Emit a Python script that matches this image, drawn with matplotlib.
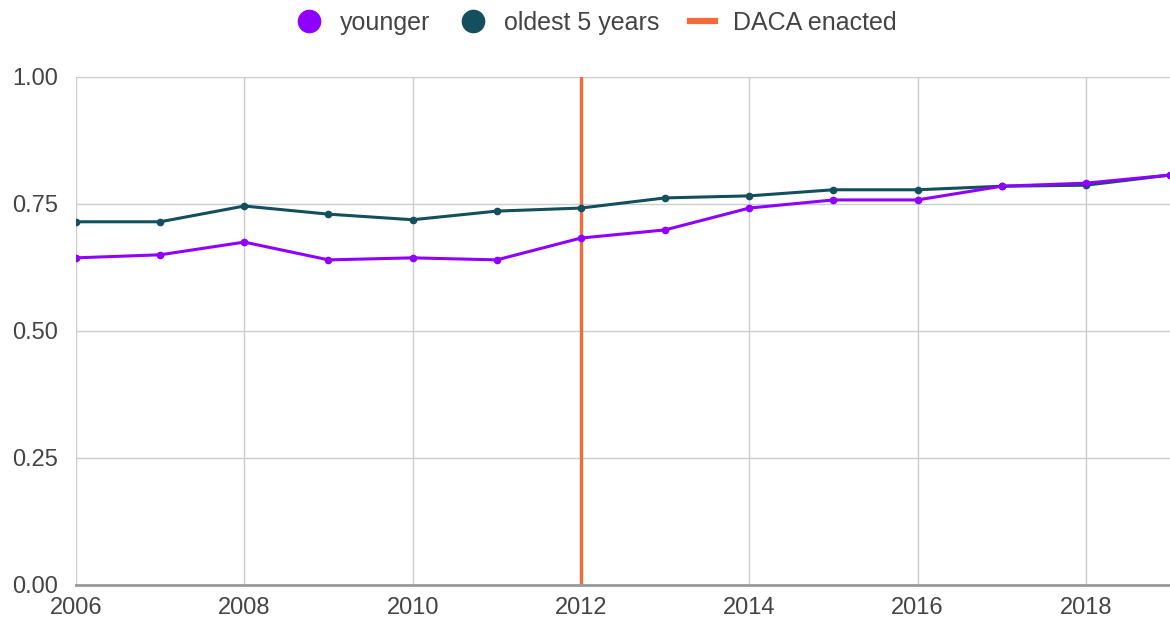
import numpy as np
import matplotlib.pyplot as plt
from matplotlib.lines import Line2D

plt.rcParams['font.family'] = ['Liberation Sans', 'DejaVu Sans']

years = np.arange(2006, 2020)
younger = [0.644, 0.650, 0.675, 0.640, 0.644, 0.640, 0.683, 0.699, 0.742, 0.758, 0.758, 0.785, 0.791, 0.807]
oldest = [0.715, 0.715, 0.746, 0.730, 0.719, 0.736, 0.742, 0.762, 0.766, 0.778, 0.778, 0.785, 0.787, 0.807]
daca_year = 2012
yticks = [0.00, 0.25, 0.50, 0.75, 1.00]
xticks = [2006, 2008, 2010, 2012, 2014, 2016, 2018]

c_young = '#9000ff'
c_old = '#134f5c'
c_daca = '#f26b38'

fig = plt.figure(figsize=(11.7, 6.26), dpi=100)
ax = fig.add_axes([0.065, 0.0655, 0.935, 0.8115])

ax.axvline(daca_year, color=c_daca, lw=2.4, zorder=2)
ax.plot(years, oldest, color=c_old, lw=2.2, marker='o', ms=4.5, zorder=3)
ax.plot(years, younger, color=c_young, lw=2.2, marker='o', ms=4.5, zorder=4)

ax.set_xlim(2006, 2019)
ax.set_ylim(0, 1)
ax.set_xticks(xticks)
ax.set_yticks(yticks)
ax.set_yticklabels([f'{v:.2f}' for v in yticks])
ax.grid(True, color='#cccccc', lw=1)
ax.set_axisbelow(True)
for s in ['top', 'right', 'left']:
    ax.spines[s].set_visible(False)
ax.spines['bottom'].set_color('#999999')
ax.spines['bottom'].set_linewidth(2)
ax.tick_params(length=0, labelsize=17, colors='#444444')
ax.tick_params(axis='x', pad=9)
ax.tick_params(axis='y', pad=13)

handles = [
    Line2D([], [], ls='none', marker='o', ms=16, color=c_young),
    Line2D([], [], ls='none', marker='o', ms=16, color=c_old),
    Line2D([], [], color=c_daca, lw=4.5),
]
fig.legend(handles, ['younger', 'oldest 5 years', 'DACA enacted'],
           loc='center', bbox_to_anchor=(0.51, 0.963), ncol=3, frameon=False,
           fontsize=18, labelcolor='#444444', handlelength=1.0,
           columnspacing=1.2, handletextpad=0.75)

fig.savefig('out.png', dpi=100)
